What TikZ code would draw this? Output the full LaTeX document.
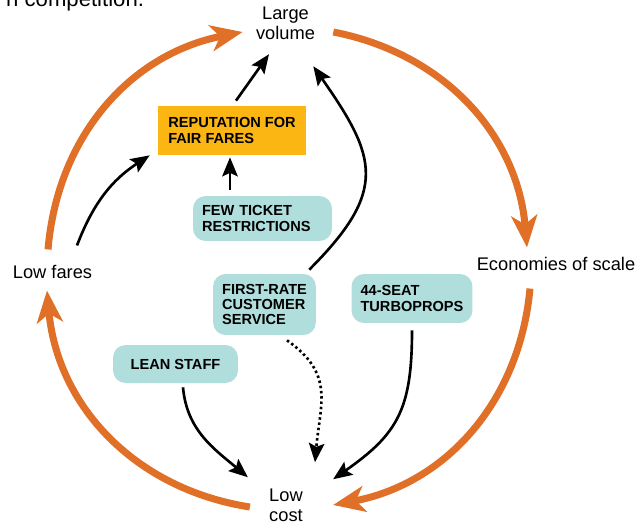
\documentclass[tikz,border=0pt]{standalone}
\usepackage{fontspec}
\setmainfont{Liberation Sans}
\usetikzlibrary{arrows.meta}
\definecolor{hbrorange}{RGB}{224,112,40}
\definecolor{hbrteal}{RGB}{176,222,220}
\definecolor{hbryellow}{RGB}{251,182,20}

\begin{document}
\begin{tikzpicture}[x=0.02cm, y=-0.02cm,
  lbl/.style={inner sep=0, align=center, font=\fontsize{10.4pt}{11.4pt}\selectfont},
  box/.style={fill=hbrteal, rounded corners=0.25cm, align=left, inner xsep=0.18cm, font=\fontsize{8.3pt}{8.7pt}\selectfont\bfseries},
  orangearc/.style={draw=hbrorange, line width=4pt, -{Stealth[length=0.64cm, width=0.52cm, inset=0.18cm]}},
  blackarc/.style={draw, line width=1.5pt, -{Stealth[length=0.38cm, width=0.31cm, inset=0.07cm]}}]
  \useasboundingbox (0,0) rectangle (639,524);
  \node (caption) at (0,7) [anchor=base west, font=\fontsize{12.6pt}{14pt}\selectfont] {n competition.};
  \node (vol) at (285.5,23.5) [lbl] {Large\\volume};
  \node (econ) at (556,263.5) [lbl] {Economies of scale};
  \node (lowcost) at (286,505) [lbl] {Low\\cost};
  \node (lowfares) at (52.5,271.5) [lbl] {Low fares};
  \node (rep) at (232,130.5) [box, fill=hbryellow, sharp corners, minimum width=2.96cm, minimum height=0.98cm] {REPUTATION FOR\\FAIR FARES};
  \node (few) at (262.5,218.5) [box, text width=2.42cm, minimum height=0.9cm] {FEW TICKET\\RESTRICTIONS};
  \node (first) at (264.5,304.5) [box, minimum width=2.02cm, minimum height=1.22cm] {FIRST-RATE\\CUSTOMER\\SERVICE};
  \node (seat) at (412,298.5) [box, minimum width=2.2cm, minimum height=0.98cm] {44-SEAT\\TURBOPROPS};
  \node (lean) at (175.5,364) [box, minimum width=2.5cm, minimum height=0.76cm] {LEAN STAFF};
  \draw [orangearc] ([shift={(-4.5,-15)}]lowfares.north) to [bend left=37] ([shift={(-13,8.5)}]vol.west);
  \draw [orangearc] ([shift={(18,8.5)}]vol.east) to [bend left=37] ([shift={(-29,-9)}]econ.north);
  \draw [orangearc] ([shift={(-26,18)}]econ.south) to [bend left=37] ([shift={(30,0)}]lowcost.east);
  \draw [orangearc] ([shift={(-19,2)}]lowcost.west) to [bend left=38] ([shift={(-5.5,12)}]lowfares.south);
  \draw [blackarc] ([shift={(24.5,-19)}]lowfares.north) to [bend left=18] ([shift={(-8,0)}]rep.south west);
  \draw [blackarc] ([shift={(4,-5)}]rep.north) -- ([shift={(-16.5,14)}]vol.south);
  \draw [blackarc] ([shift={(-32.5,-6)}]few.north) -- ([shift={(-2,2)}]rep.south);
  \draw [blackarc] ([shift={(-7,-4)}]first.north east) to [out=45, in=-55, looseness=1.4] ([shift={(-2,26)}]vol.south east);
  \draw [blackarc, dash pattern=on 1.4pt off 1.6pt] ([shift={(22.5,5)}]first.south) to [out=-35, in=85, looseness=1.2] ([shift={(29,-26)}]lowcost.north);
  \draw [blackarc] ([shift={(7.5,4)}]lean.south) to [out=-85, in=140] ([shift={(-21,-11)}]lowcost.north west);
  \draw [blackarc] ([shift={(0,7)}]seat.south) to [out=-90, in=35, looseness=1.2] ([shift={(30,-9)}]lowcost.north east);
\end{tikzpicture}
\end{document}
